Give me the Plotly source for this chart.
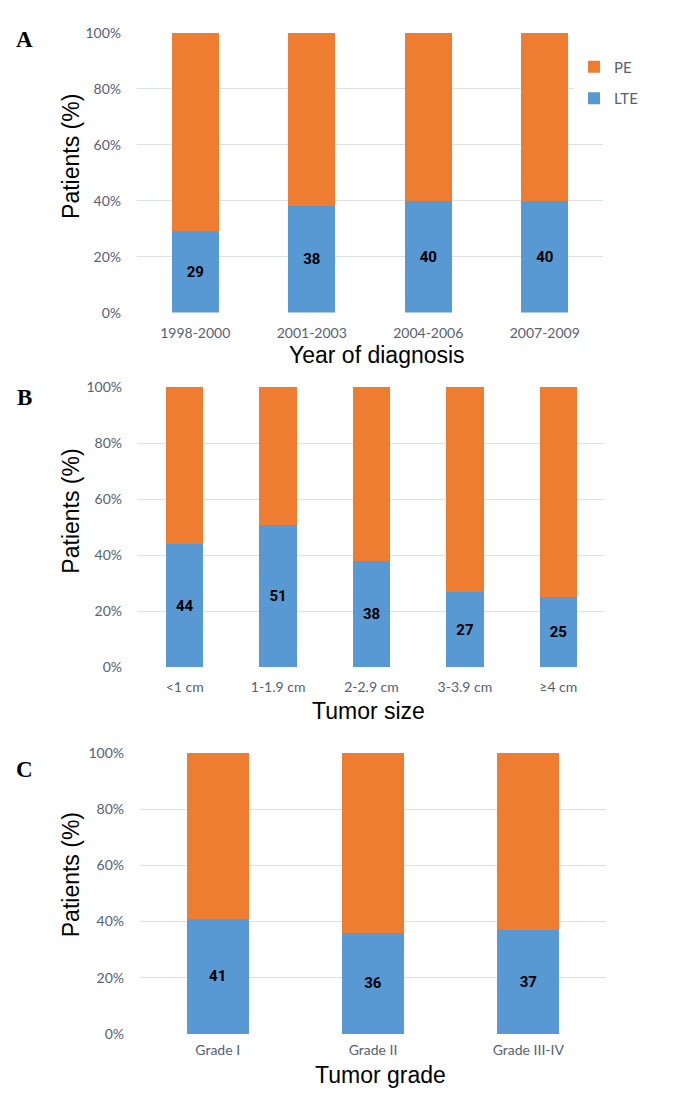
import plotly.graph_objects as go

# ---- data ----
years = ["1998-2000", "2001-2003", "2004-2006", "2007-2009"]
years_lte = [29, 38, 40, 40]
years_pe = [71, 62, 60, 60]

sizes = ["<1 cm", "1-1.9 cm", "2-2.9 cm", "3-3.9 cm", "≥4 cm"]
sizes_lte = [44, 51, 38, 27, 25]
sizes_pe = [56, 49, 62, 73, 75]

grades = ["Grade I", "Grade II", "Grade III-IV"]
grades_lte = [41, 36, 37]
grades_pe = [59, 64, 63]

y_ticks = [0, 20, 40, 60, 80, 100]
y_tick_text = ["0%", "20%", "40%", "60%", "80%", "100%"]

W, H = 688, 1093
OFF = 8  # page body margin
BLUE = "#5898d3"
ORANGE = "#ee7d32"
TICK_COLOR = "#576074"
GRID = "#dde1e7"
TICK_FONT = dict(family="Lato, Open Sans, sans-serif", size=14, color=TICK_COLOR)
LABEL_FONT = dict(family="Liberation Sans Narrow, Roboto, sans-serif", size=15, color="#000000")
TITLE_FONT = dict(family="Liberation Sans, Arial, sans-serif", size=23, color="#000000")

def px_x(p):
    return (p - OFF) / W

def px_y(p):
    return 1 - (p - OFF) / H

fig = go.Figure()

panels = [
    ("", years, years_lte, years_pe, True),
    ("2", sizes, sizes_lte, sizes_pe, False),
    ("3", grades, grades_lte, grades_pe, False),
]

for suffix, cats, lte, pe, show in panels:
    xa = "x" + suffix
    ya = "y" + suffix
    fig.add_trace(go.Bar(
        x=cats, y=lte, name="LTE", marker=dict(color=BLUE, line=dict(width=0)),
        text=lte, texttemplate="<b>%{text}</b>", textposition="inside",
        insidetextanchor="middle", textfont=LABEL_FONT,
        xaxis=xa, yaxis=ya, showlegend=show, legendgroup="LTE", legendrank=2,
    ))
    fig.add_trace(go.Bar(
        x=cats, y=pe, name="PE", marker=dict(color=ORANGE, line=dict(width=0)),
        xaxis=xa, yaxis=ya, showlegend=show, legendgroup="PE", legendrank=1,
        textposition="none",
    ))

domains = [
    ((137, 603), (309, 24)),
    ((138, 605), (669, 384)),
    ((140, 606), (1041, 755)),
]
x_standoffs = [10, 10, 6]

axis_common_x = dict(type="category", showgrid=False, showline=False, zeroline=False,
                     ticks="", tickfont=TICK_FONT)
axis_common_y = dict(range=[0, 100.3], tickmode="array", tickvals=y_ticks, ticktext=y_tick_text,
                     showgrid=True, gridcolor=GRID, gridwidth=1, zeroline=False, showline=False,
                     ticks="", tickfont=TICK_FONT, ticklabelstandoff=15)

layout_axes = {}
for i, ((x0, x1), (yb, yt)) in enumerate(domains):
    xk = "xaxis" if i == 0 else f"xaxis{i+1}"
    yk = "yaxis" if i == 0 else f"yaxis{i+1}"
    anchor_x = "y" if i == 0 else f"y{i+1}"
    anchor_y = "x" if i == 0 else f"x{i+1}"
    layout_axes[xk] = dict(axis_common_x, domain=[px_x(x0), px_x(x1)], anchor=anchor_x,
                           ticklabelstandoff=x_standoffs[i])
    layout_axes[yk] = dict(axis_common_y, domain=[px_y(yb), px_y(yt)], anchor=anchor_y)

annotations = []
for letter, yp in [("A", 32), ("B", 395), ("C", 773)]:
    annotations.append(dict(text=f"<b>{letter}</b>", x=px_x(24), y=px_y(yp), xref="paper", yref="paper",
                            showarrow=False, xanchor="center", yanchor="middle",
                            font=dict(family="Liberation Serif, serif", size=23, color="#000000")))
for yp in [151, 511, 880]:
    annotations.append(dict(text="Patients (%)", x=px_x(71), y=px_y(yp), xref="paper", yref="paper",
                            showarrow=False, textangle=-90, xanchor="center", yanchor="middle",
                            font=TITLE_FONT))
for txt, xp, yp in [("Year of diagnosis", 377, 352), ("Tumor size", 368, 713), ("Tumor grade", 380, 1083)]:
    annotations.append(dict(text=txt, x=px_x(xp), y=px_y(yp), xref="paper", yref="paper",
                            showarrow=False, xanchor="center", yanchor="middle",
                            font=TITLE_FONT))

fig.update_layout(
    width=W, height=H, autosize=False,
    margin=dict(l=0, r=0, t=0, b=0),
    paper_bgcolor="white", plot_bgcolor="white",
    barmode="stack", bargap=0.6,
    legend=dict(x=px_x(574), y=px_y(43), xanchor="left", yanchor="top",
                bgcolor="white", font=dict(family="Lato, Open Sans, sans-serif", size=15, color=TICK_COLOR),
                traceorder="grouped", tracegroupgap=9, itemwidth=30),
    annotations=annotations,
    **layout_axes,
)

fig.write_html("out.html")
